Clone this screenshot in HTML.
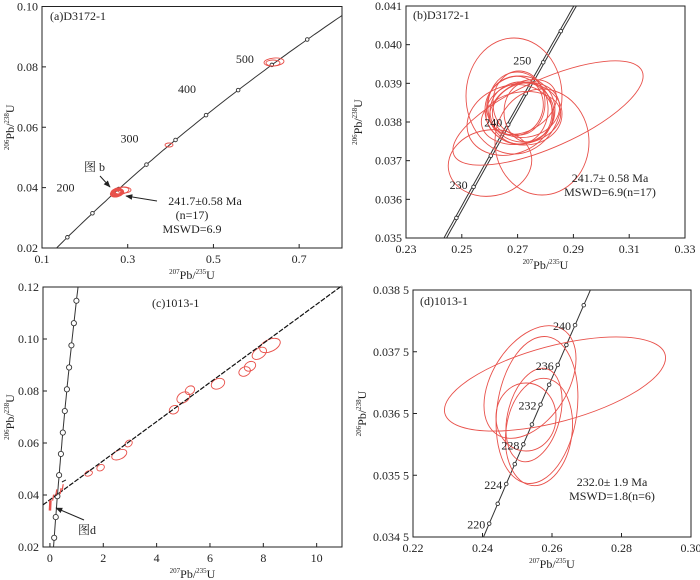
<!DOCTYPE html>
<html><head><meta charset="utf-8"><style>
body{margin:0;background:#fff}
svg{display:block}
text{font-family:"Liberation Serif","Noto Serif CJK SC",serif;fill:#222}
</style></head><body>
<svg id="s" width="700" height="580" xmlns="http://www.w3.org/2000/svg">
<defs><marker id="ar" viewBox="0 0 10 10" refX="9" refY="5" markerWidth="7" markerHeight="7" orient="auto"><path d="M0,1 L10,5 L0,9 z" fill="#222"/></marker></defs>
<g id="g"></g>
<text x="50" y="20" font-size="12">(a)D3172-1</text>
<text x="413" y="19" font-size="12">(b)D3172-1</text>
<text x="152" y="307" font-size="12">(c)1013-1</text>
<text x="420" y="305" font-size="12">(d)1013-1</text>
<text x="84" y="171" font-size="12" font-family="Liberation Serif,Noto Sans CJK SC,serif">图 b</text>
<line x1="100" y1="176" x2="110" y2="187" stroke="#222" marker-end="url(#ar)"/>
<line x1="157" y1="201" x2="126" y2="196" stroke="#222" marker-end="url(#ar)"/>
<text x="205" y="205" font-size="12" text-anchor="middle">241.7±0.58 Ma</text>
<text x="192" y="219" font-size="12" text-anchor="middle">(n=17)</text>
<text x="192" y="233" font-size="12" text-anchor="middle">MSWD=6.9</text>
<text x="610" y="182" font-size="12" text-anchor="middle">241.7± 0.58 Ma</text>
<text x="610" y="196" font-size="12" text-anchor="middle">MSWD=6.9(n=17)</text>
<text x="612" y="486" font-size="12" text-anchor="middle">232.0± 1.9 Ma</text>
<text x="612" y="500" font-size="12" text-anchor="middle">MSWD=1.8(n=6)</text>
<text x="78" y="534" font-size="12" font-family="Liberation Serif,Noto Sans CJK SC,serif">图d</text>
<line x1="84" y1="520" x2="56" y2="508" stroke="#222" marker-end="url(#ar)"/>
</svg>
<script>
var g=document.getElementById('g'),NS='http://www.w3.org/2000/svg';
function el(t,a,txt){var e=document.createElementNS(NS,t);for(var k in a)e.setAttribute(k,a[k]);if(txt!=null)e.textContent=txt;g.appendChild(e);return e;}
function U8(t){return Math.exp(1.55125e-10*t*1e6)-1}
function U5(t){return Math.exp(9.8485e-10*t*1e6)-1}
function panel(P){
 var X=function(v){return P.L+(v-P.x0)/(P.x1-P.x0)*(P.R-P.L)},Y=function(v){return P.B-(v-P.y0)/(P.y1-P.y0)*(P.B-P.T)};
 P.X=X;P.Y=Y;
 var cp='c'+P.L+'_'+P.T;
 var cl=document.createElementNS(NS,'clipPath');cl.id=cp;var r=document.createElementNS(NS,'rect');r.setAttribute('x',P.L);r.setAttribute('y',P.T);r.setAttribute('width',P.R-P.L);r.setAttribute('height',P.B-P.T);cl.appendChild(r);g.appendChild(cl);
 var gg=document.createElementNS(NS,'g');gg.setAttribute('clip-path','url(#'+cp+')');g.appendChild(gg);
 P.gg=gg;
 el('rect',{x:P.L,y:P.T,width:P.R-P.L,height:P.B-P.T,fill:'none',stroke:'#222','stroke-width':1});
 P.xt.forEach(function(v,i){var x=X(v);el('line',{x1:x,y1:P.B,x2:x,y2:P.B-4,stroke:'#222'});el('text',{x:x,y:P.B+15,'font-size':12,'text-anchor':'middle'},P.xl[i]);});
 P.yt.forEach(function(v,i){var y=Y(v);el('line',{x1:P.L,y1:y,x2:P.L+4,y2:y,stroke:'#222'});el('text',{x:P.L-4,y:y+4,'font-size':12,'text-anchor':'end'},P.yl[i]);});
 var xt=el('text',{x:(P.L+P.R)/2,y:P.B+31,'font-size':12,'text-anchor':'middle'});
 xt.innerHTML='<tspan font-size="7" dy="-5">207</tspan><tspan dy="5">Pb/</tspan><tspan font-size="7" dy="-5">235</tspan><tspan dy="5">U</tspan>';
 var cy=(P.T+P.B)/2,xx=P.L-P.yo;
 var yt=el('text',{x:xx,y:cy,'font-size':12,'text-anchor':'middle',transform:'rotate(-90 '+xx+' '+cy+')'});
 yt.innerHTML='<tspan font-size="7" dy="-5">206</tspan><tspan dy="5">Pb/</tspan><tspan font-size="7" dy="-5">238</tspan><tspan dy="5">U</tspan>';
 function conc(off){var d='';for(var t=P.t0;t<=P.t1;t+=P.ts){var x=X(U5(t))+off,y=Y(U8(t));d+=(d?'L':'M')+x.toFixed(1)+','+y.toFixed(1);}
  var p=document.createElementNS(NS,'path');p.setAttribute('d',d);p.setAttribute('fill','none');p.setAttribute('stroke','#333');p.setAttribute('stroke-width',1);gg.appendChild(p);}
 if(P.dbl){conc(-1.3);conc(1.3);}else conc(0);
 return P;
}
function ell(P,cx,cy,rx,ry,a,w){var e=document.createElementNS(NS,'ellipse');e.setAttribute('cx',cx);e.setAttribute('cy',cy);e.setAttribute('rx',rx);e.setAttribute('ry',ry);e.setAttribute('transform','rotate('+a+' '+cx+' '+cy+')');e.setAttribute('fill','none');e.setAttribute('stroke','#e8504a');e.setAttribute('stroke-width',w||0.9);P.gg.appendChild(e);}
function marks(P,list,r){list.forEach(function(t){var c=document.createElementNS(NS,'circle');c.setAttribute('cx',P.X(U5(t)));c.setAttribute('cy',P.Y(U8(t)));c.setAttribute('r',r);c.setAttribute('fill','#fff');c.setAttribute('stroke','#333');c.setAttribute('stroke-width',0.9);P.gg.appendChild(c);});}
function lab(P,t,dx,dy,s){el('text',{x:P.X(U5(t))+dx,y:P.Y(U8(t))+dy,'font-size':12,'text-anchor':'end'},s);}

var A=panel({L:42,R:342,T:6.5,B:248,yo:28,x0:0.1,x1:0.8,y0:0.02,y1:0.10,xt:[0.1,0.3,0.5,0.7],xl:['0.1','0.3','0.5','0.7'],yt:[0.02,0.04,0.06,0.08,0.10],yl:['0.02','0.04','0.06','0.08','0.10'],t0:100,t1:650,ts:5});
marks(A,[150,200,250,300,350,400,450,500,550],1.8);
lab(A,200,-18,-22,'200');lab(A,300,-8,-22,'300');lab(A,400,-10,-22,'400');lab(A,500,-18,-2,'500');
ell(A,274,62,10,4,-5);ell(A,273,63,7,3,0);ell(A,169,145,4,2,0);
ell(A,120,191,9,3.5,-10);ell(A,117,193,6,3,-15,2.5);ell(A,118,192,4,3,0,3);ell(A,124,190,7,3,0);

var Bp=panel({L:406,R:685,T:6,B:238,yo:44,x0:0.23,x1:0.33,y0:0.035,y1:0.041,xt:[0.23,0.25,0.27,0.29,0.31,0.33],xl:['0.23','0.25','0.27','0.29','0.31','0.33'],yt:[0.035,0.036,0.037,0.038,0.039,0.040,0.041],yl:['0.035','0.036','0.037','0.038','0.039','0.040','0.041'],t0:215,t1:265,ts:1,dbl:true});
marks(Bp,[225,230,235,240,245,250,255],1.8);
lab(Bp,230,-6,2,'230');lab(Bp,240,-6,2,'240');lab(Bp,250,-12,2,'250');
ell(Bp,548,113,103,34,-24);ell(Bp,514,96,48,58,0);ell(Bp,542,142,47,53,0);ell(Bp,490,163,42,33,-10);
[[520,110,35,34,0],[522,112,32,30,10],[518,108,30,36,-5],[524,114,38,31,0],[515,106,28,30,20],[526,110,34,27,-15],[521,118,40,26,-10],[519,103,26,32,0],[528,112,24,30,0],[510,120,44,34,-20],[523,107,36,24,-30]].forEach(function(e){ell(Bp,e[0],e[1],e[2],e[3],e[4]);});

var C=panel({L:43,R:342,T:287,B:547,yo:29,x0:-0.26,x1:10.95,y0:0.02,y1:0.12,xt:[0,2,4,6,8,10],xl:['0','2','4','6','8','10'],yt:[0.02,0.04,0.06,0.08,0.10,0.12],yl:['0.02','0.04','0.06','0.08','0.10','0.12'],t0:100,t1:800,ts:10});
el('line',{x1:C.X(-0.26),y1:C.Y(0.0362),x2:C.X(10.95),y2:C.Y(0.1205),stroke:'#111','stroke-width':1.2,'stroke-dasharray':'5,1.5'});
marks(C,[150,200,250,300,350,400,450,500,550,600,650,700],2.6);
[[1.45,0.0483,4,2.5,-20],[1.9,0.0505,4,3,-30],[2.6,0.0555,8,4.5,-25],[2.95,0.0598,4,3,-40],[4.65,0.0728,5,4,-30],[5.0,0.0775,7,5,-35],[5.25,0.0803,5,4,-35],[6.3,0.0828,7,5,-25],[7.3,0.0875,6,4.5,-25],[7.5,0.0895,6,4.5,-30],[7.85,0.0945,8,5,-35],[8.25,0.0975,11,6,-25]].forEach(function(e){ell(C,C.X(e[0]),C.Y(e[1]),e[2],e[3],e[4]);});
[[0.1,0.039],[0.22,0.041],[0.38,0.0415],[0.46,0.043]].forEach(function(p){el('line',{x1:C.X(p[0]),y1:C.Y(p[1])+3,x2:C.X(p[0])+1,y2:C.Y(p[1])-3,stroke:'#e8504a','stroke-width':1.2});});
el('line',{x1:C.X(0.45),y1:C.Y(0.045),x2:C.X(0.6),y2:C.Y(0.0458),stroke:'#222'});
el('line',{x1:C.X(0),y1:C.Y(0.034),x2:C.X(0.02),y2:C.Y(0.038),stroke:'#e8504a','stroke-width':2.5});

var D=panel({L:413,R:691,T:290,B:537,yo:47,x0:0.22,x1:0.30,y0:0.0345,y1:0.0385,xt:[0.22,0.24,0.26,0.28,0.30],xl:['0.22','0.24','0.26','0.28','0.30'],yt:[0.0345,0.0355,0.0365,0.0375,0.0385],yl:['0.034 5','0.035 5','0.036 5','0.037 5','0.038 5'],t0:212,t1:250,ts:1});
marks(D,[220,222,224,226,228,230,232,234,236,238,240,242],1.8);
lab(D,220,-4,5,'220');lab(D,224,-4,5,'224');lab(D,228,-4,5,'228');lab(D,232,-4,5,'232');lab(D,236,-4,5,'236');lab(D,240,-4,5,'240');
ell(D,555,384,114,38,-15);ell(D,530,382,62,38,-58);ell(D,537,410,40,74,8);ell(D,539,432,33,54,8);ell(D,526,417,30,34,0);ell(D,534,415,26,48,15);
</script>
</body></html>
